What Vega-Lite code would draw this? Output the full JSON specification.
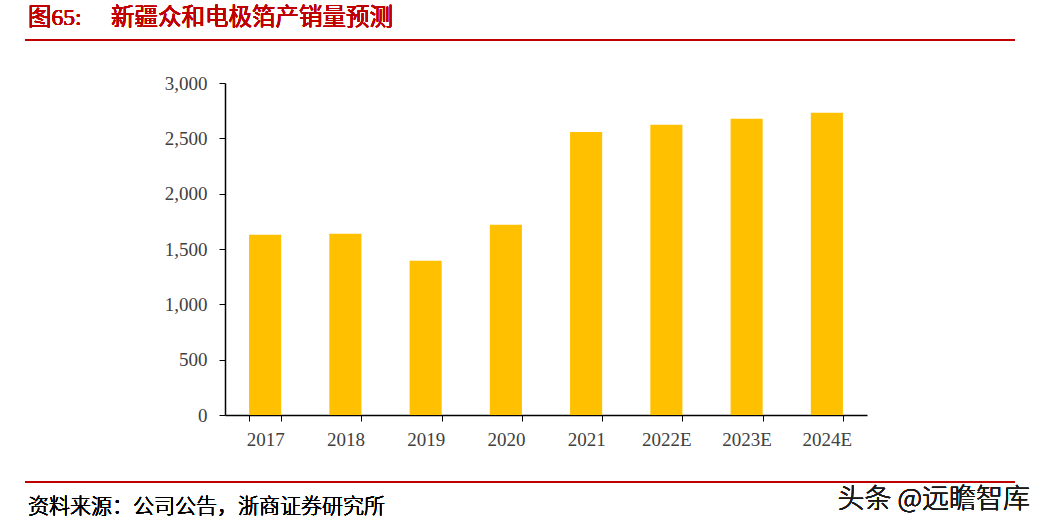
{
  "$schema": "https://vega.github.io/schema/vega-lite/v6.json",
  "autosize": {"type": "none"},
  "width": 642,
  "height": 332,
  "padding": {"left": 225, "top": 83, "right": 175, "bottom": 114},
  "background": "white",
  "config": {"view": {"stroke": null}},
  "data": {"values": [
    {"year": "2017", "value": 1628},
    {"year": "2018", "value": 1637},
    {"year": "2019", "value": 1393},
    {"year": "2020", "value": 1718},
    {"year": "2021", "value": 2557},
    {"year": "2022E", "value": 2623},
    {"year": "2023E", "value": 2677},
    {"year": "2024E", "value": 2731}
  ]},
  "layer": [
    {
      "mark": {"type": "bar", "color": "#FFC000"},
      "encoding": {
        "x": {"field": "year", "type": "nominal", "sort": null,
          "scale": {"paddingInner": 0.6, "paddingOuter": 0.3},
          "axis": {"title": null, "labelAngle": 0, "tickBand": "extent", "domainColor": "#000000", "domainWidth": 1.5,
            "tickColor": "#000000", "tickSize": 6, "labelFont": "Liberation Serif", "labelFontSize": 19,
            "labelColor": "#404040", "labelPadding": 9, "grid": false}},
        "y": {"field": "value", "type": "quantitative",
          "scale": {"domain": [0, 3000]},
          "axis": {"title": null, "values": [0, 500, 1000, 1500, 2000, 2500, 3000], "format": ",.0f",
            "domainColor": "#000000", "domainWidth": 1.5, "tickColor": "#000000", "tickSize": 6,
            "labelFont": "Liberation Serif", "labelFontSize": 19, "labelColor": "#404040", "labelPadding": 12, "grid": false}}
      }
    },
    {
      "mark": {"type": "rule", "color": "#C00000", "strokeWidth": 2},
      "encoding": {"x": {"value": -200}, "x2": {"value": 790}, "y": {"value": -43}}
    },
    {
      "mark": {"type": "rule", "color": "#C00000", "strokeWidth": 2},
      "encoding": {"x": {"value": -200}, "x2": {"value": 790}, "y": {"value": 399}}
    },
    {
      "mark": {"type": "text", "text": "图65:\u00a0\u00a0\u00a0\u00a0\u00a0新疆众和电极箔产销量预测", "align": "left", "baseline": "middle",
        "font": "Liberation Serif, Noto Sans CJK SC", "fontSize": 23.5, "fontWeight": "normal", "color": "#C00000"},
      "encoding": {"x": {"value": -197}, "y": {"value": -65}}
    },
    {
      "mark": {"type": "text", "text": "资料来源：公司公告，浙商证券研究所", "align": "left", "baseline": "middle",
        "font": "Noto Sans CJK SC", "fontSize": 21, "fontWeight": 300, "color": "#000000"},
      "encoding": {"x": {"value": -197}, "y": {"value": 424}}
    },
    {
      "mark": {"type": "text", "text": "头条 @远瞻智库", "align": "right", "baseline": "middle",
        "font": "Noto Sans CJK SC", "fontSize": 27, "fontWeight": 300, "color": "#1a1a1a"},
      "encoding": {"x": {"value": 805}, "y": {"value": 417}}
    }
  ]
}
